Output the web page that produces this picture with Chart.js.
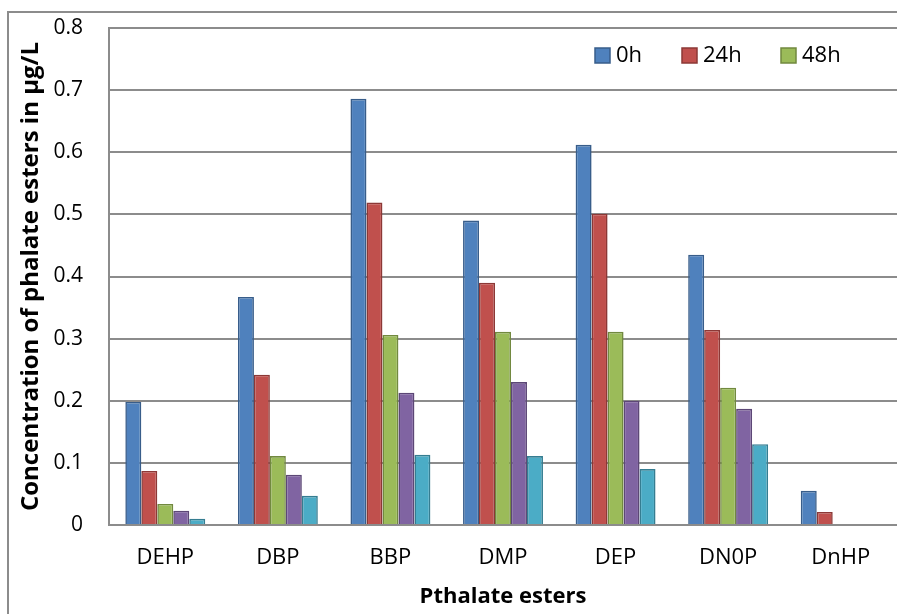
<!DOCTYPE html>
<html>
<head>
<meta charset="utf-8">
<script src="https://cdn.jsdelivr.net/npm/chart.js@4.4.0/dist/chart.umd.min.js"></script>
<style>
  html, body { margin: 0; padding: 0; background: #fff; }
  #wrap { width: 897px; height: 614px; }
</style>
</head>
<body>
<div id="wrap"><canvas id="esters_chart" width="897" height="614"></canvas></div>
<script>
// categories and series
let esterNames = ["DEHP", "DBP", "BBP", "DMP", "DEP", "DN0P", "DnHP"];
let hour0  = [0.198, 0.367, 0.686, 0.490, 0.612, 0.435, 0.055];
let hour24 = [0.087, 0.242, 0.519, 0.390, 0.501, 0.314, 0.021];
let hour48 = [0.034, 0.111, 0.306, 0.311, 0.311, 0.221, 0];
let hour72 = [0.023, 0.081, 0.213, 0.230, 0.200, 0.187, 0];
let hour96 = [0.010, 0.047, 0.113, 0.111, 0.090, 0.130, 0];
let yTicks = [0, 0.1, 0.2, 0.3, 0.4, 0.5, 0.6, 0.7, 0.8];

let font = "'Open Sans', 'Noto Sans', sans-serif";

// outer frame + legend inside plot (only first three series are named)
let framePlugin = {
    id: "frame",
    beforeDraw: function (chart) {
        let ctx = chart.ctx;
        ctx.save();
        ctx.strokeStyle = "#8c8c8c";
        ctx.lineWidth = 2;
        ctx.strokeRect(8, 12, 1000, 700);
        ctx.restore();
    },
    afterDraw: function (chart) {
        let ctx = chart.ctx;
        let xs = [595, 682, 781];
        ctx.save();
        ctx.font = "22px " + font;
        ctx.textBaseline = "middle";
        for (let i = 0; i < 3; i++) {
            let ds = chart.data.datasets[i];
            ctx.fillStyle = ds.backgroundColor;
            ctx.fillRect(xs[i], 48, 15, 15);
            ctx.strokeStyle = ds.borderColor;
            ctx.lineWidth = 1.5;
            ctx.strokeRect(xs[i], 48, 15, 15);
            ctx.fillStyle = "#000";
            ctx.fillText(ds.label, xs[i] + 21, 56);
        }
        ctx.restore();
    }
};

let chartEl = document.getElementById("esters_chart");
let esterChart = new Chart(chartEl, {
    type: "bar",
    data: {
        labels: esterNames,
        datasets: [
            { label: "0h",  data: hour0,  backgroundColor: "#4F81BD", borderColor: "#385D8A" },
            { label: "24h", data: hour24, backgroundColor: "#C0504D", borderColor: "#8C3836" },
            { label: "48h", data: hour48, backgroundColor: "#9BBB59", borderColor: "#71893F" },
            { label: "",    data: hour72, backgroundColor: "#8064A2", borderColor: "#5C4776" },
            { label: "",    data: hour96, backgroundColor: "#4BACC6", borderColor: "#357D91" }
        ]
    },
    options: {
        responsive: false,
        animation: false,
        layout: { padding: { top: 28, right: 0, left: 0, bottom: 0 } },
        datasets: {
            bar: { categoryPercentage: 0.71, barPercentage: 1, borderWidth: 1.6 }
        },
        plugins: {
            legend: { display: false },
            tooltip: { enabled: false }
        },
        scales: {
            x: {
                grid: { display: false, drawTicks: false },
                border: { color: "#8c8c8c", width: 2 },
                ticks: { color: "#000", font: { family: font, size: 22 }, padding: 20 },
                title: {
                    display: true, text: "Pthalate esters", color: "#000",
                    font: { family: font, size: 22, weight: "bold" }, padding: { top: 10 }
                },
                afterFit: function (s) { s.height = 89; s.paddingLeft = 0; s.paddingRight = 0; }
            },
            y: {
                min: 0, max: 0.8,
                afterBuildTicks: function (s) { s.ticks = yTicks.map(function (v) { return { value: v }; }); },
                grid: { color: "#8c8c8c", lineWidth: 2, drawTicks: false },
                border: { color: "#8c8c8c", width: 2 },
                ticks: {
                    color: "#000", font: { family: font, size: 21 }, padding: 26,
                    callback: function (v) { return String(v); }
                },
                title: {
                    display: true, text: "Concentration of phalate esters in µg/L", color: "#000",
                    font: { family: font, size: 24, weight: "bold" }, padding: { top: 17 }
                },
                afterFit: function (s) { s.width = 109; s.paddingTop = 0; s.paddingBottom = 0; }
            }
        }
    },
    plugins: [framePlugin]
});
</script>
</body>
</html>
